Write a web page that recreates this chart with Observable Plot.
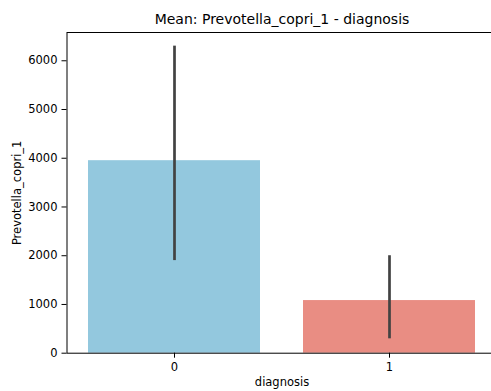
<!DOCTYPE html>
<html>
<head>
<meta charset="utf-8">
<script src="https://cdn.jsdelivr.net/npm/d3@7"></script>
<script src="https://cdn.jsdelivr.net/npm/@observablehq/plot@0.6"></script>
<style>
  html, body { margin: 0; padding: 0; background: #fff; }
</style>
</head>
<body>
<div id="chart"></div>
<script>
const categories = ["0", "1"];
const means = [3950, 1080];
const ciLow = [1900, 295];
const ciHigh = [6300, 2000];
const barColors = ["#93c8de", "#e98d83"];
const yTicks = [0, 1000, 2000, 3000, 4000, 5000, 6000];
const titleText = "Mean: Prevotella_copri_1 - diagnosis";
const xLabel = "diagnosis";
const yLabel = "Prevotella_copri_1";

const data = categories.map((c, i) => ({cat: c, mean: means[i], lo: ciLow[i], hi: ciHigh[i]}));

const chart = Plot.plot({
  width: 491,
  height: 391,
  marginLeft: 66.5,
  marginRight: -5.5,
  marginTop: 32,
  marginBottom: 38.3,
  style: {fontFamily: "DejaVu Sans", fontSize: "11.5px", color: "#000", background: "#fff", overflow: "visible"},
  x: {domain: categories, paddingInner: 0.2, paddingOuter: 0.1},
  y: {domain: [0, 6580]},
  color: {domain: categories, range: barColors},
  marks: [
    Plot.barY(data, {x: "cat", y: "mean", fill: "cat"}),
    Plot.ruleX(data, {x: "cat", y1: "lo", y2: "hi", stroke: "#424242", strokeWidth: 2.7}),
    Plot.frame({stroke: "#000", strokeWidth: 1}),
    Plot.axisY({ticks: yTicks, tickFormat: "d", tickSize: 5, tickPadding: 4.5, label: null, fontSize: "11.5px"}),
    Plot.axisX({tickSize: 5, tickPadding: 4.5, label: null, fontSize: "11.5px"}),
    Plot.text([titleText], {text: d => d, frameAnchor: "top", lineAnchor: "top", dy: -18, fontSize: "14px", fill: "#000"}),
    Plot.text([xLabel], {text: d => d, frameAnchor: "bottom", lineAnchor: "top", dy: 25, fontSize: "11.5px", fill: "#000"}),
    Plot.text([yLabel], {text: d => d, frameAnchor: "left", textAnchor: "middle", rotate: -90, lineAnchor: "middle", dx: -49.5, fontSize: "11.5px", fill: "#000"})
  ]
});
document.getElementById("chart").appendChild(chart);
</script>
</body>
</html>
